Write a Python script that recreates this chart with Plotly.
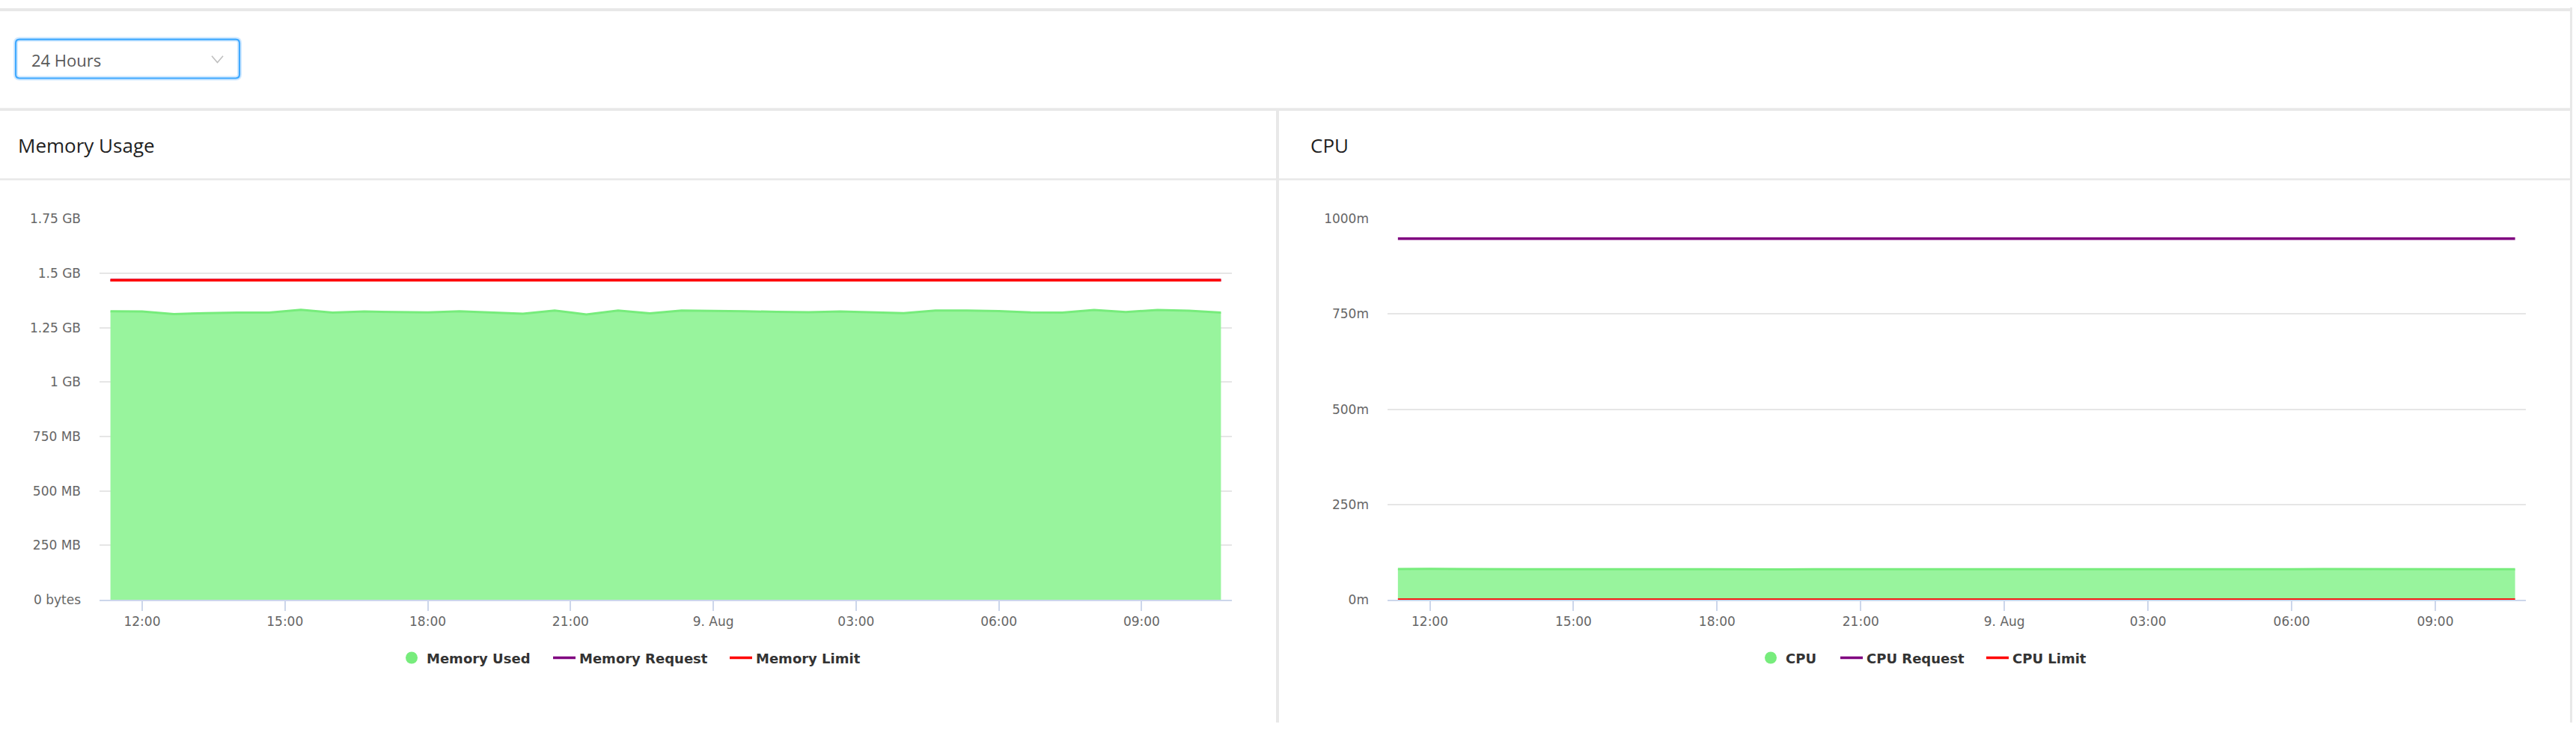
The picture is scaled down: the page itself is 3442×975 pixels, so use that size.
import plotly.graph_objects as go
import pandas as pd

# ---------------- data ----------------
TIME_START = "2023-08-08 11:20"
TIME_STEP = "40min"
N_POINTS = 36
times = pd.date_range(TIME_START, periods=N_POINTS, freq=TIME_STEP)

memory_used_gb = [1.325, 1.324, 1.312, 1.317, 1.319, 1.319, 1.332, 1.319, 1.324, 1.323,
                  1.320, 1.325, 1.319, 1.314, 1.329, 1.311, 1.329, 1.316, 1.329, 1.328,
                  1.325, 1.323, 1.321, 1.324, 1.320, 1.317, 1.329, 1.329, 1.326, 1.320,
                  1.319, 1.331, 1.322, 1.331, 1.328, 1.319]
memory_request_gb = 1.468
memory_limit_gb = 1.468

cpu_used_m = [80.5, 81.2, 80.3, 79.9, 79.8, 80.0, 80.1, 80.0, 79.7, 79.9,
              80.2, 79.8, 79.6, 79.8, 80.0, 80.1, 79.9, 79.7, 79.6, 79.6,
              79.8, 80.2, 80.0, 79.8, 79.7, 79.9, 80.2, 79.8, 80.1, 80.3,
              80.4, 80.2, 80.0, 80.1, 80.0, 80.2]
cpu_request_m = 948
cpu_limit_m = 0

mem_tickvals = [0, 0.25, 0.5, 0.75, 1.0, 1.25, 1.5, 1.75]
mem_ticktext = ["0 bytes", "250 MB", "500 MB", "750 MB", "1 GB", "1.25 GB", "1.5 GB", "1.75 GB"]
cpu_tickvals = [0, 250, 500, 750, 1000]
cpu_ticktext = ["0m", "250m", "500m", "750m", "1000m"]
x_tickvals = ["2023-08-08 12:00", "2023-08-08 15:00", "2023-08-08 18:00", "2023-08-08 21:00",
              "2023-08-09 00:00", "2023-08-09 03:00", "2023-08-09 06:00", "2023-08-09 09:00"]
x_ticktext = ["12:00", "15:00", "18:00", "21:00", "9. Aug", "03:00", "06:00", "09:00"]

mem_xrange = ["2023-08-08 11:06:15", "2023-08-09 10:53:45"]
cpu_xrange = ["2023-08-08 11:07:00", "2023-08-09 10:53:30"]

# ---------------- style ----------------
W, H = 3442, 975
GREEN_LINE = "#77ec7c"
GREEN_FILL = "#98f49d"
PURPLE = "#800080"
RED = "#ff0000"
SEP = "#e8e8e8"
TICK_FONT = dict(family="DejaVu Sans", size=17, color="#666666")
LEG_FONT = dict(family="DejaVu Sans", size=18, color="#333333", weight="bold")


def fx(px):
    return px / W


def fy(py):
    return 1 - py / H


fig = go.Figure()

# legend positions (icon centre, px)
LEG_Y = 887
leg_pos = {"legend": 550, "legend2": 754, "legend3": 990,
           "legend4": 2366, "legend5": 2474, "legend6": 2669}

# ---- Memory panel ----
fig.add_trace(go.Scatter(x=times, y=memory_used_gb, mode="lines", fill="tozeroy",
                         line=dict(color=GREEN_LINE, width=3), fillcolor=GREEN_FILL,
                         showlegend=False, xaxis="x", yaxis="y", name="Memory Used"))
fig.add_trace(go.Scatter(x=[None], y=[None], mode="markers", name="Memory Used",
                         marker=dict(color=GREEN_LINE, size=20, symbol="circle"),
                         legend="legend", xaxis="x", yaxis="y"))
fig.add_trace(go.Scatter(x=times, y=[memory_request_gb] * len(times), mode="lines",
                         name="Memory Request", line=dict(color=PURPLE, width=3.5),
                         legend="legend2", xaxis="x", yaxis="y"))
fig.add_trace(go.Scatter(x=times, y=[memory_limit_gb] * len(times), mode="lines",
                         name="Memory Limit", line=dict(color=RED, width=3.5),
                         legend="legend3", xaxis="x", yaxis="y"))

# ---- CPU panel ----
fig.add_trace(go.Scatter(x=times, y=cpu_used_m, mode="lines", fill="tozeroy",
                         line=dict(color=GREEN_LINE, width=3), fillcolor=GREEN_FILL,
                         showlegend=False, xaxis="x2", yaxis="y2", name="CPU"))
fig.add_trace(go.Scatter(x=[None], y=[None], mode="markers", name="CPU",
                         marker=dict(color=GREEN_LINE, size=20, symbol="circle"),
                         legend="legend4", xaxis="x2", yaxis="y2"))
fig.add_trace(go.Scatter(x=times, y=[cpu_request_m] * len(times), mode="lines",
                         name="CPU Request", line=dict(color=PURPLE, width=3.5),
                         legend="legend5", xaxis="x2", yaxis="y2"))
fig.add_trace(go.Scatter(x=times, y=[cpu_limit_m] * len(times), mode="lines",
                         name="CPU Limit", line=dict(color=RED, width=3.5),
                         legend="legend6", xaxis="x2", yaxis="y2"))

y_dom = [fy(807.5), fy(288.2)]

xcommon = dict(type="date", showgrid=False, zeroline=False, showline=True,
               linecolor="#ccd6eb", linewidth=1.5, ticks="outside", ticklen=13,
               tickwidth=1.5, tickcolor="#ccd6eb", tickfont=TICK_FONT,
               tickvals=x_tickvals, ticktext=x_ticktext, fixedrange=True)
ycommon = dict(showgrid=True, gridcolor="#e6e6e6", gridwidth=1.5, zeroline=False,
               showline=False, ticks="", tickfont=TICK_FONT, ticklabelstandoff=24,
               fixedrange=True, domain=y_dom)

legends = {}
for key, cx in leg_pos.items():
    legends[key] = dict(orientation="h", x=fx(cx - 20), xanchor="left", y=fy(LEG_Y),
                        yanchor="middle", font=LEG_FONT, bgcolor="rgba(0,0,0,0)",
                        borderwidth=0, itemclick=False, itemdoubleclick=False)

fig.update_layout(
    width=W, height=H,
    margin=dict(l=0, r=0, t=0, b=0),
    paper_bgcolor="white", plot_bgcolor="rgba(0,0,0,0)",
    xaxis=dict(domain=[fx(133), fx(1646)], range=mem_xrange, anchor="y", **xcommon),
    yaxis=dict(range=[0, 1.75], tickvals=mem_tickvals, ticktext=mem_ticktext,
               anchor="x", **ycommon),
    xaxis2=dict(domain=[fx(1854), fx(3375)], range=cpu_xrange, anchor="y2", **xcommon),
    yaxis2=dict(range=[0, 1000], tickvals=cpu_tickvals, ticktext=cpu_ticktext,
                anchor="x2", **ycommon),
    hovermode=False,
    **legends,
)


def rect(x0, y0, x1, y1, color, layer="below"):
    return dict(type="rect", xref="paper", yref="paper", x0=fx(x0), x1=fx(x1),
                y0=fy(y1), y1=fy(y0), fillcolor=color, line=dict(width=0), layer=layer)


def rrect_path(x0, y0, x1, y1, r):
    p = lambda x, y: f"{fx(x)},{fy(y)}"
    return (f"M {p(x0 + r, y0)} L {p(x1 - r, y0)} Q {p(x1, y0)} {p(x1, y0 + r)} "
            f"L {p(x1, y1 - r)} Q {p(x1, y1)} {p(x1 - r, y1)} L {p(x0 + r, y1)} "
            f"Q {p(x0, y1)} {p(x0, y1 - r)} L {p(x0, y0 + r)} Q {p(x0, y0)} {p(x0 + r, y0)} Z")


shapes = [
    rect(0, 1, 3437, 5, SEP),            # top band
    rect(0, 137, 3437, 141, SEP),        # separator under filter card
    rect(0, 233, 3437, 235.5, SEP),      # header bottom line
    rect(1705, 141, 1709, 975, SEP),     # vertical separator between panels
    rect(3434, 0, 3437, 975, SEP),       # right border
    dict(type="path", xref="paper", yref="paper", path=rrect_path(21, 43.5, 320, 96.5, 5),
         line=dict(color="rgba(24,144,255,0.2)", width=6), fillcolor="white", layer="below"),
    dict(type="path", xref="paper", yref="paper", path=rrect_path(21, 43.5, 320, 96.5, 5),
         line=dict(color="#40a9ff", width=2.2), layer="below"),
    dict(type="path", xref="paper", yref="paper",
         path=f"M {fx(283)},{fy(66)} L {fx(290.5)},{fy(75)} L {fx(298)},{fy(66)}",
         line=dict(color="#bfbfbf", width=1.6), layer="below"),
]
fig.update_layout(shapes=shapes)

annotations = [
    dict(text="24 Hours", x=fx(40), y=fy(71), xref="paper", yref="paper", showarrow=False,
         xanchor="left", yanchor="middle",
         font=dict(family="Open Sans", size=22, color="#595959")),
    dict(text="Memory Usage", x=fx(22), y=fy(188), xref="paper", yref="paper", showarrow=False,
         xanchor="left", yanchor="middle",
         font=dict(family="Open Sans", size=26, color="#1f1f1f")),
    dict(text="CPU", x=fx(1749), y=fy(188), xref="paper", yref="paper", showarrow=False,
         xanchor="left", yanchor="middle",
         font=dict(family="Open Sans", size=26, color="#1f1f1f")),
]
fig.update_layout(annotations=annotations)

post = ("document.documentElement.style.margin='0';document.body.style.margin='0';"
        "document.body.style.padding='0';document.body.style.overflow='hidden';"
        "var d=document.getElementById('{plot_id}');"
        "d.style.position='fixed';d.style.top='0px';d.style.left='0px';")
fig.write_html("out.html", config={"displayModeBar": False}, post_script=post)
